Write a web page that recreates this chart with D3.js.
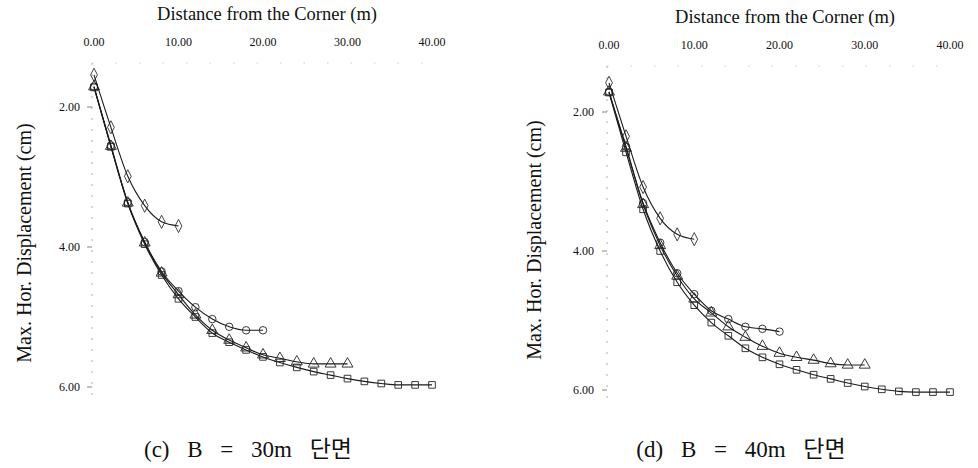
<!DOCTYPE html>
<html><head><meta charset="utf-8">
<script src="https://cdn.jsdelivr.net/npm/d3@7"></script>
<style>body{margin:0;background:#fff}svg{display:block}</style>
</head><body>
<script>
// ---- data ----
const xTicks = [0, 10, 20, 30, 40];
const yTicks = [2, 4, 6];
const xTitle = "Distance from the Corner (m)";
const yTitle = "Max. Hor. Displacement (cm)";
const captions = ["(c) B = 30m 단면", "(d) B = 40m 단면"];

const distD = [0, 2, 4, 6, 8, 10];
const distC = [0, 2, 4, 6, 8, 10, 12, 14, 16, 18, 20];
const distT = [0, 2, 4, 6, 8, 10, 12, 14, 16, 18, 20, 22, 24, 26, 28, 30];
const distS = [0, 2, 4, 6, 8, 10, 12, 14, 16, 18, 20, 22, 24, 26, 28, 30, 32, 34, 36, 38, 40];

// panel (c) B = 30m
const c_diamond = [1.54, 2.29, 2.99, 3.41, 3.64, 3.70];
const c_circle = [1.71, 2.55, 3.36, 3.93, 4.35, 4.63, 4.86, 5.03, 5.14, 5.19, 5.19];
const c_triangle = [1.71, 2.56, 3.37, 3.94, 4.37, 4.68, 4.97, 5.19, 5.33, 5.44, 5.54, 5.59, 5.64, 5.67, 5.67, 5.67];
const c_square = [1.72, 2.57, 3.38, 3.96, 4.40, 4.74, 5.00, 5.23, 5.36, 5.47, 5.57, 5.65, 5.72, 5.78, 5.83, 5.88, 5.92, 5.95, 5.97, 5.97, 5.97];

// panel (d) B = 40m
const d_diamond = [1.58, 2.35, 3.08, 3.53, 3.76, 3.83];
const d_circle = [1.71, 2.50, 3.31, 3.88, 4.32, 4.62, 4.86, 4.98, 5.09, 5.12, 5.16];
const d_triangle = [1.71, 2.52, 3.33, 3.92, 4.36, 4.69, 4.89, 5.09, 5.24, 5.37, 5.47, 5.53, 5.57, 5.62, 5.64, 5.64];
const d_square = [1.72, 2.58, 3.40, 4.00, 4.45, 4.78, 5.03, 5.22, 5.40, 5.53, 5.63, 5.71, 5.78, 5.84, 5.90, 5.95, 5.99, 6.02, 6.03, 6.03, 6.03];

// ---- drawing ----
const W = 978, H = 468;
const svg = d3.select("body").append("svg").attr("width", W).attr("height", H);
const serif = "'Liberation Serif','DejaVu Serif',serif";

const panels = [
  {x0: 94, x1: 432, yTop: 63, yBot: 400, y2: 107, y6: 387, titleX: 267, titleY: 20, tickY: 46, ylabX: 31, ylabY: 243, tickRight: 80, capX: 248,
   series: [[distS, c_square, "square"], [distT, c_triangle, "triangle"], [distC, c_circle, "circle"], [distD, c_diamond, "diamond"]]},
  {x0: 609, x1: 950, yTop: 66, yBot: 405, y2: 112, y6: 390, titleX: 785, titleY: 23, tickY: 49, ylabX: 541, ylabY: 240, tickRight: 594, capX: 741,
   series: [[distS, d_square, "square"], [distT, d_triangle, "triangle"], [distC, d_circle, "circle"], [distD, d_diamond, "diamond"]]}
];

const symType = {square: d3.symbolSquare, triangle: d3.symbolTriangle, circle: d3.symbolCircle, diamond: d3.symbolDiamond};
const symSize = {square: 44, triangle: 52, circle: 44, diamond: 50};

panels.forEach((p, i) => {
  const g = svg.append("g");
  const x = d3.scaleLinear().domain([0, 40]).range([p.x0, p.x1]);
  const y = d3.scaleLinear().domain([2, 6]).range([p.y2, p.y6]);

  // faint axis lines
  g.append("line").attr("x1", p.x0 - 2).attr("x2", p.x1 + 2).attr("y1", p.yTop).attr("y2", p.yTop)
    .attr("stroke", "#bbb").attr("stroke-width", 0.8).attr("stroke-dasharray", "1.5,22");
  g.append("line").attr("x1", p.x0 - 2).attr("x2", p.x0 - 2).attr("y1", p.yTop).attr("y2", p.yBot)
    .attr("stroke", "#999").attr("stroke-width", 0.8).attr("stroke-dasharray", "2,9");

  // x ticks labels (top)
  g.selectAll(".xt").data(xTicks).enter().append("text")
    .attr("x", d => x(d)).attr("y", p.tickY).attr("text-anchor", "middle")
    .attr("font-family", serif).attr("font-size", 12).attr("fill", "#111")
    .text(d => d3.format(".2f")(d));

  // y ticks
  g.selectAll(".yt").data(yTicks).enter().append("text")
    .attr("x", p.tickRight).attr("y", d => y(d) + 4).attr("text-anchor", "end")
    .attr("font-family", serif).attr("font-size", 12).attr("fill", "#111")
    .text(d => d3.format(".2f")(d));
  g.selectAll(".ytm").data(yTicks).enter().append("line")
    .attr("x1", p.x0 - 7).attr("x2", p.x0 - 2).attr("y1", d => y(d)).attr("y2", d => y(d))
    .attr("stroke", "#666").attr("stroke-width", 0.8);

  // titles
  g.append("text").attr("x", p.titleX).attr("y", p.titleY).attr("text-anchor", "middle")
    .attr("font-family", serif).attr("font-size", 18.5).attr("fill", "#111").text(xTitle);
  g.append("text").attr("transform", `translate(${p.ylabX},${p.ylabY}) rotate(-90)`)
    .attr("text-anchor", "middle").attr("font-family", serif).attr("font-size", 20).attr("fill", "#111").text(yTitle);

  // caption
  g.append("text").attr("x", p.capX).attr("y", 457).attr("text-anchor", "middle")
    .attr("font-family", "'Liberation Serif','Noto Sans CJK KR',serif").attr("font-size", 23)
    .attr("word-spacing", 12).attr("fill", "#111").text(captions[i]);

  // series
  const line = d3.line().x(d => x(d[0])).y(d => y(d[1])).curve(d3.curveMonotoneX);
  p.series.forEach(([xs, ys, shape]) => {
    const pts = xs.map((d, k) => [d, ys[k]]);
    g.append("path").datum(pts).attr("d", line).attr("fill", "none")
      .attr("stroke", "#1a1a1a").attr("stroke-width", 1.1);
  });
  p.series.forEach(([xs, ys, shape]) => {
    const pts = xs.map((d, k) => [d, ys[k]]);
    const sym = d3.symbol().type(symType[shape]).size(symSize[shape]);
    g.selectAll(null).data(pts).enter().append("path")
      .attr("d", sym)
      .attr("transform", d => `translate(${x(d[0])},${y(d[1])})${shape === "diamond" ? " scale(0.9,1)" : ""}`)
      .attr("fill", "none").attr("stroke", "#222").attr("stroke-width", 0.9);
  });
});
</script>
</body></html>
